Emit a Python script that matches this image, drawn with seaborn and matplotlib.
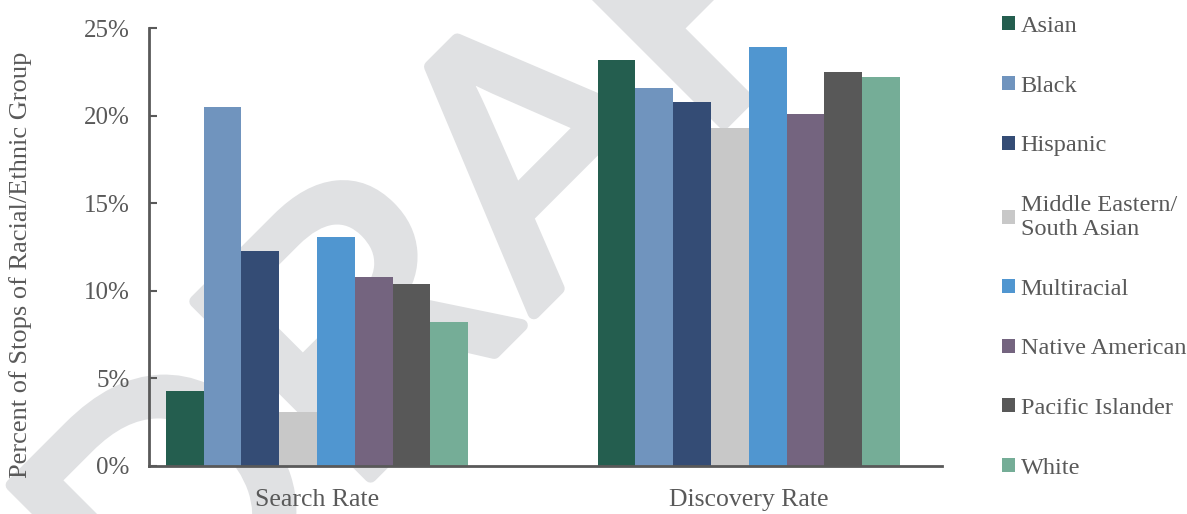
import numpy as np
import pandas as pd
import matplotlib
matplotlib.use("Agg")
import matplotlib.pyplot as plt
import matplotlib.patheffects as pe
import seaborn as sns

# data (percent of stops)
measures = ["Search Rate", "Discovery Rate"]
groups = ["Asian", "Black", "Hispanic", "Middle Eastern/\nSouth Asian",
          "Multiracial", "Native American", "Pacific Islander", "White"]
search_rate = [4.3, 20.5, 12.3, 3.1, 13.1, 10.8, 10.4, 8.2]
discovery_rate = [23.2, 21.6, 20.8, 19.3, 23.9, 20.1, 22.5, 22.2]
colors = ["#245E4F", "#7094BE", "#344C75", "#C8C8C8",
          "#5096D0", "#74647F", "#585858", "#75AD97"]
y_ticks = [0, 5, 10, 15, 20, 25]

df = pd.DataFrame({
    "Measure": np.repeat(measures, len(groups)),
    "Group": groups * len(measures),
    "Rate": search_rate + discovery_rate,
})

sns.set_theme(style="white")
plt.rcParams["font.family"] = ["Liberation Serif", "DejaVu Serif"]
text_gray = "#595959"
mark_gray = "#E0E1E3"

fig = plt.figure(figsize=(11.87, 5.14), dpi=100)
fig.patch.set_facecolor("white")

# faint DRAFT watermark behind everything
fig.text(0.497, 0.5, "DRAFT", fontsize=259, color=mark_gray,
         family="Liberation Sans", rotation=45, rotation_mode="anchor",
         ha="center", va="baseline", zorder=-1,
         path_effects=[pe.withStroke(linewidth=9, foreground=mark_gray)])

ax = fig.add_axes([0.1255, 0.0934, 0.668, 0.852])
ax.patch.set_alpha(0)

sns.barplot(data=df, x="Measure", y="Rate", hue="Group", order=measures,
            hue_order=groups, palette=colors, saturation=1, width=0.7,
            linewidth=0, ax=ax, zorder=2)

ax.set_xlim(-0.389, 1.447)
ax.set_ylim(0, 25)
ax.set_yticks(y_ticks)
ax.set_yticklabels([f"{t}%" for t in y_ticks])
ax.set_xlabel("")
ax.set_ylabel("Percent of Stops of Racial/Ethnic Group", fontsize=19,
              color=text_gray)
ax.yaxis.set_label_coords(-0.148, 0.459)

for side in ["top", "right"]:
    ax.spines[side].set_visible(False)
for side in ["left", "bottom"]:
    ax.spines[side].set_color(text_gray)
    ax.spines[side].set_linewidth(2)

ax.tick_params(axis="y", direction="in", length=5.5, width=1.5,
               color=text_gray, labelsize=18, labelcolor=text_gray, pad=14,
               left=True)
ax.tick_params(axis="x", length=0, labelsize=18.5, labelcolor=text_gray,
               pad=16.5)

handles, labels = ax.get_legend_handles_labels()
ax.get_legend().remove()
leg = fig.legend(handles, labels, loc="upper left",
                 bbox_to_anchor=(0.8445, 0.969), frameon=False,
                 fontsize=17.5, handlelength=0.5, handleheight=0.5,
                 handletextpad=0.25, labelspacing=1.59, borderpad=0,
                 borderaxespad=0)
for t in leg.get_texts():
    t.set_color(text_gray)
    t.set_linespacing(1.2)

fig.savefig("out.png", dpi=100)
